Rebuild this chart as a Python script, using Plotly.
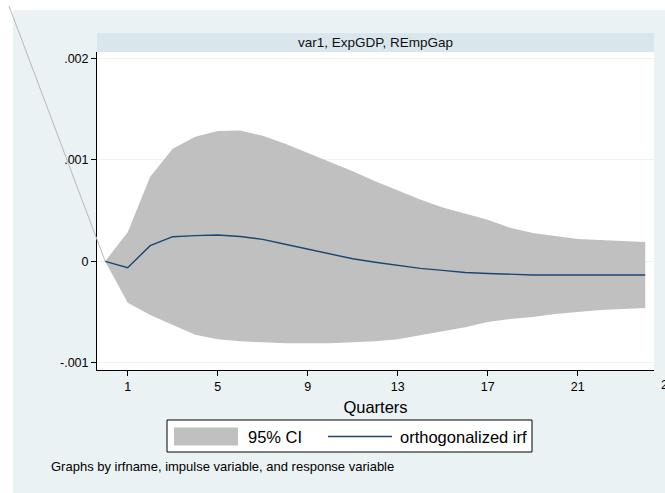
import plotly.graph_objects as go

# ---- data ----
steps = list(range(25))
irf = [0, -0.000063, 0.000154, 0.000243, 0.000253, 0.00026, 0.000245, 0.000217,
       0.000168, 0.000121, 0.000072, 0.000025, -0.00001, -0.00004, -0.00007,
       -0.00009, -0.00011, -0.00012, -0.00013, -0.000135, -0.000135, -0.000135,
       -0.000135, -0.000135, -0.000135]
upper = [0, 0.000286, 0.000835, 0.00111, 0.00123, 0.001286, 0.00129, 0.00124,
         0.00116, 0.00107, 0.00098, 0.00089, 0.00079, 0.0007, 0.00061, 0.00053,
         0.00047, 0.00041, 0.00033, 0.00028, 0.00025, 0.00022, 0.00021, 0.0002,
         0.00019]
lower = [0, -0.00041, -0.00053, -0.00063, -0.000725, -0.00077, -0.00079, -0.0008,
         -0.00081, -0.00081, -0.00081, -0.0008, -0.00079, -0.00077, -0.00073,
         -0.00069, -0.00065, -0.0006, -0.00057, -0.00055, -0.00052, -0.0005,
         -0.00048, -0.00047, -0.00046]
x_ticks = [1, 5, 9, 13, 17, 21, 25]
y_ticks = [-0.001, 0, 0.001, 0.002]
y_tick_labels = ["-.001", "0", ".001", ".002"]
panel_title = "var1, ExpGDP, REmpGap"
x_title = "Quarters"
legend_labels = ["95% CI", "orthogonalized irf"]
note = "Graphs by irfname, impulse variable, and response variable"

# ---- geometry / style ----
W_FIG, H_FIG = 665, 493
L, R, T, B = 97, 654, 52, 370
PW, PH = R - L, B - T
x_range = [-0.364, 24.39]
y_range = [-0.001073, 0.002066]
BG = "#eaf2f3"
STRIP = "#d9e6eb"
BAND = "#c0c0c0"
NAVY = "#1a476f"
FONT = "Liberation Sans, Arial, sans-serif"


def pxx(px):
    return (px - L) / PW


def pxy(py):
    return (B - py) / PH


def dx(v):
    return (v - x_range[0]) / (x_range[1] - x_range[0])


def dy(v):
    return (v - y_range[0]) / (y_range[1] - y_range[0])


fig = go.Figure()
fig.add_trace(go.Scatter(x=steps, y=lower, mode="lines", line=dict(width=0, color=BAND),
                         hoverinfo="skip", showlegend=False))
fig.add_trace(go.Scatter(x=steps, y=upper, mode="lines", line=dict(width=0, color=BAND),
                         fill="tonexty", fillcolor=BAND, name=legend_labels[0],
                         showlegend=False))
fig.add_trace(go.Scatter(x=steps, y=irf, mode="lines", line=dict(width=1.4, color=NAVY),
                         name=legend_labels[1], showlegend=False))

shapes = []
# white strips outside the Stata graph region
shapes.append(dict(type="rect", xref="paper", yref="paper", x0=pxx(0), x1=pxx(13),
                   y0=pxy(H_FIG), y1=pxy(0), fillcolor="white", line=dict(width=0),
                   layer="above"))
shapes.append(dict(type="rect", xref="paper", yref="paper", x0=pxx(0), x1=pxx(W_FIG),
                   y0=pxy(10), y1=pxy(0), fillcolor="white", line=dict(width=0),
                   layer="above"))
# panel header strip
shapes.append(dict(type="rect", xref="paper", yref="paper", x0=0, x1=1,
                   y0=1, y1=pxy(33), fillcolor=STRIP, line=dict(width=0)))
# stray diagonal line (from the data origin to the top-left corner)
shapes.append(dict(type="line", xref="paper", yref="paper", x0=dx(0), y0=dy(0),
                   x1=pxx(9), y1=pxy(6), line=dict(color="#b8b8b8", width=1),
                   layer="above"))
# legend box
lg_top, lg_bot = 420, 452
shapes.append(dict(type="rect", xref="paper", yref="paper", x0=pxx(167), x1=pxx(532),
                   y0=pxy(lg_bot), y1=pxy(lg_top), fillcolor="white",
                   line=dict(color="black", width=1)))
shapes.append(dict(type="rect", xref="paper", yref="paper", x0=pxx(174), x1=pxx(238),
                   y0=pxy(445.5), y1=pxy(427.5), fillcolor=BAND, line=dict(width=0)))
shapes.append(dict(type="line", xref="paper", yref="paper", x0=pxx(328), x1=pxx(392),
                   y0=pxy(436.5), y1=pxy(436.5), line=dict(color=NAVY, width=1.4)))

annotations = [
    dict(text=panel_title, xref="paper", yref="paper", x=0.5, y=(1 + pxy(33)) / 2,
         showarrow=False, font=dict(family=FONT, size=13.5, color="#111"),
         xanchor="center", yanchor="middle"),
    dict(text=legend_labels[0], xref="paper", yref="paper", x=pxx(246), y=pxy(436.5),
         showarrow=False, font=dict(family=FONT, size=16.5, color="black"),
         xanchor="left", yanchor="middle"),
    dict(text=legend_labels[1], xref="paper", yref="paper", x=pxx(398), y=pxy(436.5),
         showarrow=False, font=dict(family=FONT, size=16.5, color="black"),
         xanchor="left", yanchor="middle"),
    dict(text=note, xref="paper", yref="paper", x=pxx(49), y=pxy(466.5),
         showarrow=False, font=dict(family=FONT, size=13, color="black"),
         xanchor="left", yanchor="middle"),
    # tick label of 25, which lies beyond the plotted range and is cut by the frame edge
    dict(text=str(x_ticks[-1]), xref="paper", yref="paper", x=dx(x_ticks[-1]), y=pxy(376),
         showarrow=False, font=dict(family=FONT, size=12.5, color="black"),
         xanchor="center", yanchor="top"),
]

fig.update_layout(
    width=W_FIG, height=H_FIG,
    margin=dict(l=L, r=W_FIG - R, t=T, b=H_FIG - B, pad=0),
    paper_bgcolor=BG, plot_bgcolor="white",
    showlegend=False,
    shapes=shapes, annotations=annotations,
    font=dict(family=FONT, size=12.5, color="black"),
)
fig.update_xaxes(range=x_range, tickvals=x_ticks, ticks="outside", ticklen=5,
                 tickwidth=1, tickcolor="black", showline=True, linecolor="black",
                 linewidth=1, showgrid=False, zeroline=False,
                 tickfont=dict(family=FONT, size=12.5, color="black"),
                 title=dict(text=x_title, font=dict(family=FONT, size=16.5, color="black"),
                            standoff=8))
fig.update_yaxes(range=y_range, tickvals=y_ticks, ticktext=y_tick_labels,
                 ticks="outside", ticklen=5, tickwidth=1, tickcolor="black",
                 showline=True, linecolor="black", linewidth=1, showgrid=True,
                 gridcolor=BG, gridwidth=1, zeroline=False,
                 tickfont=dict(family=FONT, size=12.5, color="black"))

fig.write_html(
    "out.html",
    config={"displayModeBar": False},
    post_script="document.body.style.margin='0px';document.body.style.overflow='hidden';",
)
